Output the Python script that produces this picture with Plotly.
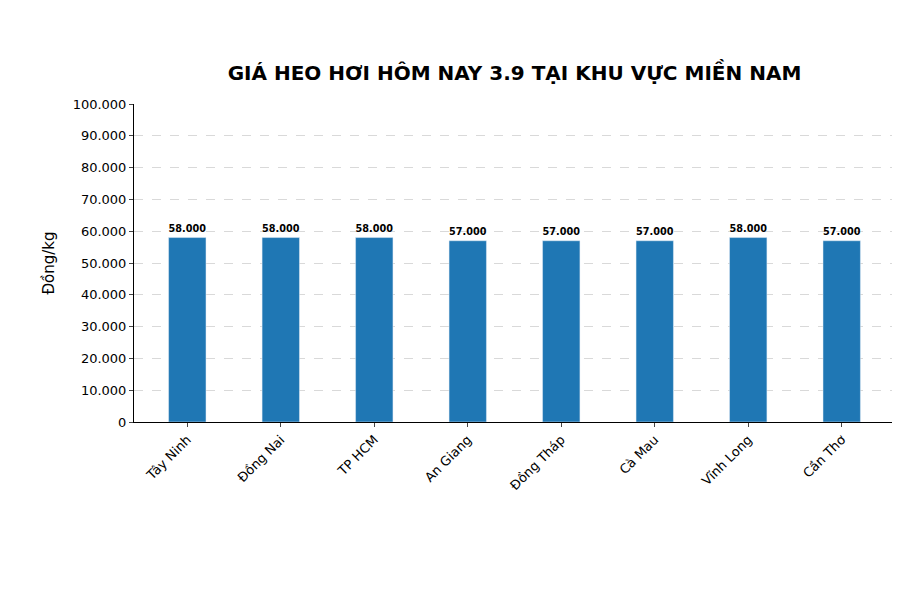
import plotly.graph_objects as go

provinces = ["Tây Ninh", "Đồng Nai", "TP HCM", "An Giang", "Đồng Tháp", "Cà Mau", "Vĩnh Long", "Cần Thơ"]
prices = [58000, 58000, 58000, 57000, 57000, 57000, 58000, 57000]

labels = [f"{p:,}".replace(",", ".") for p in prices]
tickvals = list(range(0, 100001, 10000))
ticktext = [f"{v:,}".replace(",", ".") for v in tickvals]

fig = go.Figure(go.Bar(
    x=list(range(len(provinces))),
    y=prices,
    width=0.4,
    marker_color="#1f77b4",
    text=labels,
    textposition="outside",
    textfont=dict(size=12, color="black", family="DejaVu Sans"),
    texttemplate="<b>%{text}</b>",
    cliponaxis=False,
))

fig.update_layout(
    width=900, height=600,
    margin=dict(l=126, r=13, t=96, b=186, autoexpand=False),
    plot_bgcolor="white", paper_bgcolor="white",
    font=dict(family="DejaVu Sans", size=13, color="black"),
    title=dict(text="<b>GIÁ HEO HƠI HÔM NAY 3.9 TẠI KHU VỰC MIỀN NAM</b>",
               xref="paper", x=0.5, xanchor="center",
               yref="container", y=0.892, yanchor="middle",
               font=dict(size=20, color="black")),
    showlegend=False,
)
fig.update_xaxes(
    tickvals=list(range(len(provinces))), ticktext=provinces,
    range=[-0.57, len(provinces) - 0.43],
    tickangle=-45, ticks="outside", ticklen=4, automargin=False,
    showline=True, linecolor="black", showgrid=False,
)
fig.update_yaxes(
    range=[0, 100000], tickvals=tickvals, ticktext=ticktext,
    ticks="outside", ticklen=4, automargin=False,
    showline=True, linecolor="black",
    showgrid=True, gridcolor="#d9d9d9", griddash="dash", zeroline=False,
    title=dict(text="Đồng/kg", font=dict(size=15), standoff=14),
)

fig.write_html("out.html")
